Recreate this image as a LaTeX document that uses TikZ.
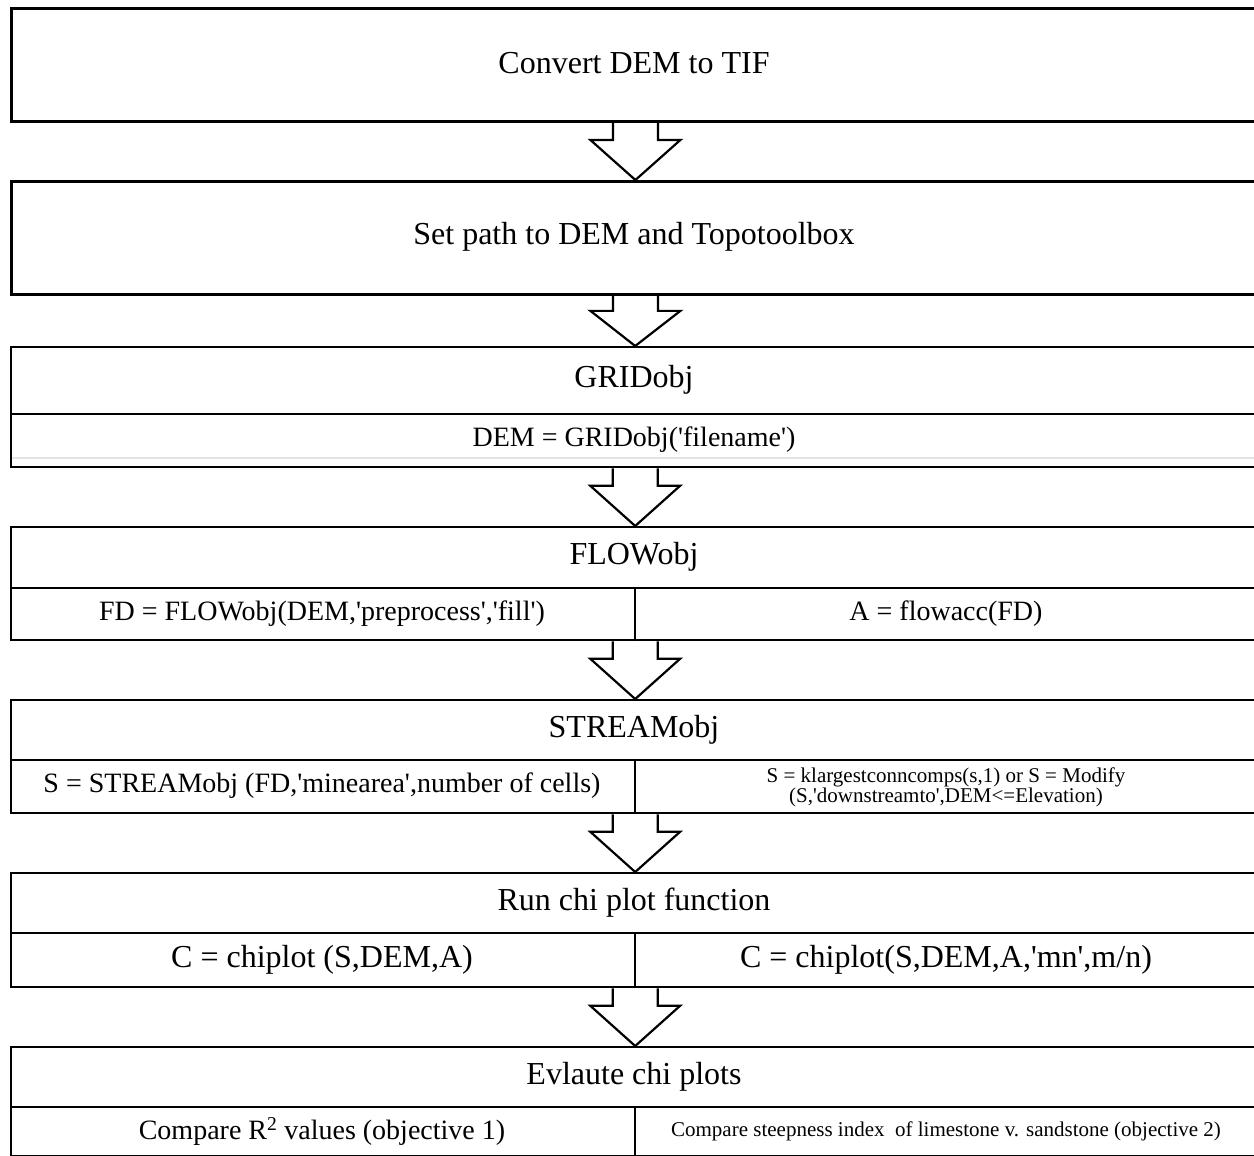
\documentclass[tikz,border=0pt]{standalone}
\usepackage{fontspec}
\setmainfont{Liberation Serif}[Ligatures=TeXOff]
\usetikzlibrary{calc}
\begin{document}
\begin{tikzpicture}[x=1pt,y=-1pt,
  box/.style={draw, line width=2.4pt, minimum width=1248pt, inner sep=0pt, anchor=north west},
  thickbox/.style={box, line width=2.8pt},
  divline/.style={line width=2.2pt},
  arr/.style={draw, line width=2.2pt, line join=miter},
  big/.style={font=\fontsize{32}{36}\selectfont},
  mid/.style={font=\fontsize{28}{32}\selectfont},
  small/.style={font=\fontsize{21}{20}\selectfont, align=center}]
\useasboundingbox (0,0) rectangle (1254,1156);

% boxes
\node[thickbox, minimum height=113pt] (b1) at (10,7) {};
\node[thickbox, minimum height=113pt] (b2) at (10,180) {};
\node[box, minimum height=120pt] (b3) at (10,346) {};
\node[box, minimum height=113pt] (b4) at (10,526) {};
\node[box, minimum height=113pt] (b5) at (10,699) {};
\node[box, minimum height=114pt] (b6) at (10,872) {};
\node[box, minimum height=109pt] (b7) at (10,1046) {};

% horizontal dividers
\coordinate (d3) at (10,414);
\coordinate (d4) at (10,588);
\coordinate (d5) at (10,760);
\coordinate (d6) at (10,933);
\coordinate (d7) at (10,1107);
\foreach \d/\b in {d3/b3,d4/b4,d5/b5,d6/b6,d7/b7}{
  \draw[divline] (\d) -- (\d -| \b.east);
}
% faint line in GRIDobj box
\draw[gray!22, line width=2pt] (11.5,458) -- (1258,458);

% vertical dividers
\foreach \d/\b in {d4/b4,d5/b5,d6/b6,d7/b7}{
  \draw[divline] (\b.south) -- (\b.south |- \d);
}

% hollow arrows
\foreach \a/\b in {b1/b2,b2/b3,b3/b4,b4/b5,b5/b6,b6/b7}{
  \draw[arr] let \p1=(\a.south), \p2=(\b.north), \n1={\y1+0.3*(\y2-\y1)} in
    ({\x1-22.5pt},\y1) -- ({\x1-22.5pt},\n1) -- ({\x1-45pt},\n1) -- (\x2,\y2)
    -- ({\x1+45pt},\n1) -- ({\x1+22.5pt},\n1) -- ({\x1+22.5pt},\y1);
}

% texts
\node[big] (t1) at (634,63.5) {Convert DEM to TIF};
\node[big] (t2) at (634,237) {Set path to DEM and Topotoolbox};
\node[big] (t3) at (634,380) {GRIDobj};
\node[mid] (t3a) at (634,440) {DEM = GRIDobj('filename')};
\node[big] (t4) at (634,557) {FLOWobj};
\node[mid] (t4a) at (322,614) {FD = FLOWobj(DEM,'preprocess','fill')};
\node[mid] (t4b) at (946,614) {A = flowacc(FD)};
\node[big] (t5) at (634,730) {STREAMobj};
\node[mid] (t5a) at (322,786) {S = STREAMobj (FD,'minearea',number of cells)};
\node[small] (t5b) at (946,787) {S = klargestconncomps(s,1) or S = Modify\\(S,'downstreamto',DEM<=Elevation)};
\node[big] (t6) at (634,903) {Run chi plot function};
\node[big] (t6a) at (322,960) {C = chiplot (S,DEM,A)};
\node[big] (t6b) at (946,960) {C = chiplot(S,DEM,A,'mn',m/n)};
\node[big] (t7) at (634,1077) {Evlaute chi plots};
\node[mid] (t7a) at (322,1131) {Compare R\textsuperscript{2} values (objective 1)};
\node[small] (t7b) at (946,1131) {Compare steepness index\ \ of limestone v. sandstone (objective 2)};
\end{tikzpicture}
\end{document}
